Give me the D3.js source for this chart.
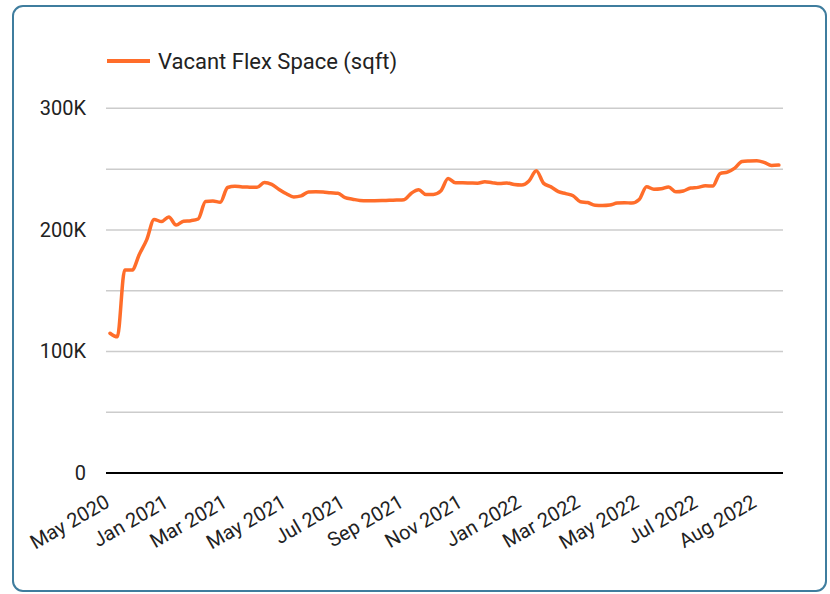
<!DOCTYPE html>
<html><head><meta charset="utf-8">
<script src="https://cdn.jsdelivr.net/npm/d3@7"></script>
<style>body{margin:0;background:#fff;} text{font-family:Roboto,sans-serif;}</style>
</head><body><svg id="c" width="830" height="594"></svg>
<script>
const seriesName = "Vacant Flex Space (sqft)";
const values = [
 115000,112000,167000,167000,180000,192000,208600,206900,210700,204000,
 207200,207600,209000,223400,223800,222700,234900,236000,235300,235200,
 235100,239000,237400,233300,229700,227100,228000,231200,231400,231200,
 230500,230100,226500,225300,224200,224000,224000,224100,224400,224600,
 224900,230200,233000,229100,229200,232000,242300,238800,238800,238600,
 238400,239600,238800,238100,238700,237300,236900,240200,248700,238300,
 235400,231500,229900,228100,223200,222500,220300,220100,220500,222100,
 222400,222100,225000,235500,233400,233800,235300,231300,232000,234500,
 235000,236300,236100,246400,247600,250900,256300,256700,256900,255500,
 253000,253400];
const tickLabels = ["May 2020","Jan 2021","Mar 2021","May 2021","Jul 2021","Sep 2021",
 "Nov 2021","Jan 2022","Mar 2022","May 2022","Jul 2022","Aug 2022"];
const tickEvery = 8;
const gridTicks = [0,50000,100000,150000,200000,250000,300000];
const labelTicks = [0,100000,200000,300000];

const svg = d3.select("#c");
const plot = {left:106, right:783, top:47.6, bottom:473};

svg.append("rect").attr("x",13).attr("y",6).attr("width",813).attr("height",585)
  .attr("rx",10).attr("fill","#fff").attr("stroke","#3f7d9e").attr("stroke-width",2);

const x = d3.scaleLinear().domain([0, values.length-1]).range([110, 778.85]);
const y = d3.scaleLinear().domain([0, 350000]).range([plot.bottom, plot.top]);

svg.append("g").selectAll("line").data(gridTicks.filter(d=>d>0)).join("line")
  .attr("x1",plot.left).attr("x2",plot.right)
  .attr("y1",d=>y(d)).attr("y2",d=>y(d))
  .attr("stroke","#cccccc").attr("stroke-width",1.5);

const fmt = d => d===0 ? "0" : d3.format("~s")(d).replace("k","K");
svg.append("g").selectAll("text").data(labelTicks).join("text")
  .attr("x",86).attr("y",d=>y(d)).attr("dy","0.35em")
  .attr("text-anchor","end").attr("font-size",20).attr("fill","#222")
  .text(fmt);

svg.append("line").attr("x1",plot.left).attr("x2",plot.right)
  .attr("y1",y(0)).attr("y2",y(0)).attr("stroke","#000").attr("stroke-width",2);

svg.append("g").selectAll("text").data(tickLabels).join("text")
  .attr("transform",(d,i)=>`translate(${x(i*tickEvery)+1},506) rotate(-30)`)
  .attr("text-anchor","end").attr("font-size",20).attr("fill","#222")
  .text(d=>d);

const line = d3.line().x((d,i)=>x(i)).y(d=>y(d)).curve(d3.curveMonotoneX);
svg.append("path").datum(values).attr("d",line)
  .attr("fill","none").attr("stroke","#ff6d2a").attr("stroke-width",3.5)
  .attr("stroke-linejoin","round").attr("stroke-linecap","round");

svg.append("line").attr("x1",107).attr("x2",150).attr("y1",61).attr("y2",61)
  .attr("stroke","#ff6d2a").attr("stroke-width",4);
svg.append("text").attr("x",158).attr("y",61).attr("dy","0.35em")
  .attr("font-size",22).attr("fill","#222").text(seriesName);
</script></body></html>
